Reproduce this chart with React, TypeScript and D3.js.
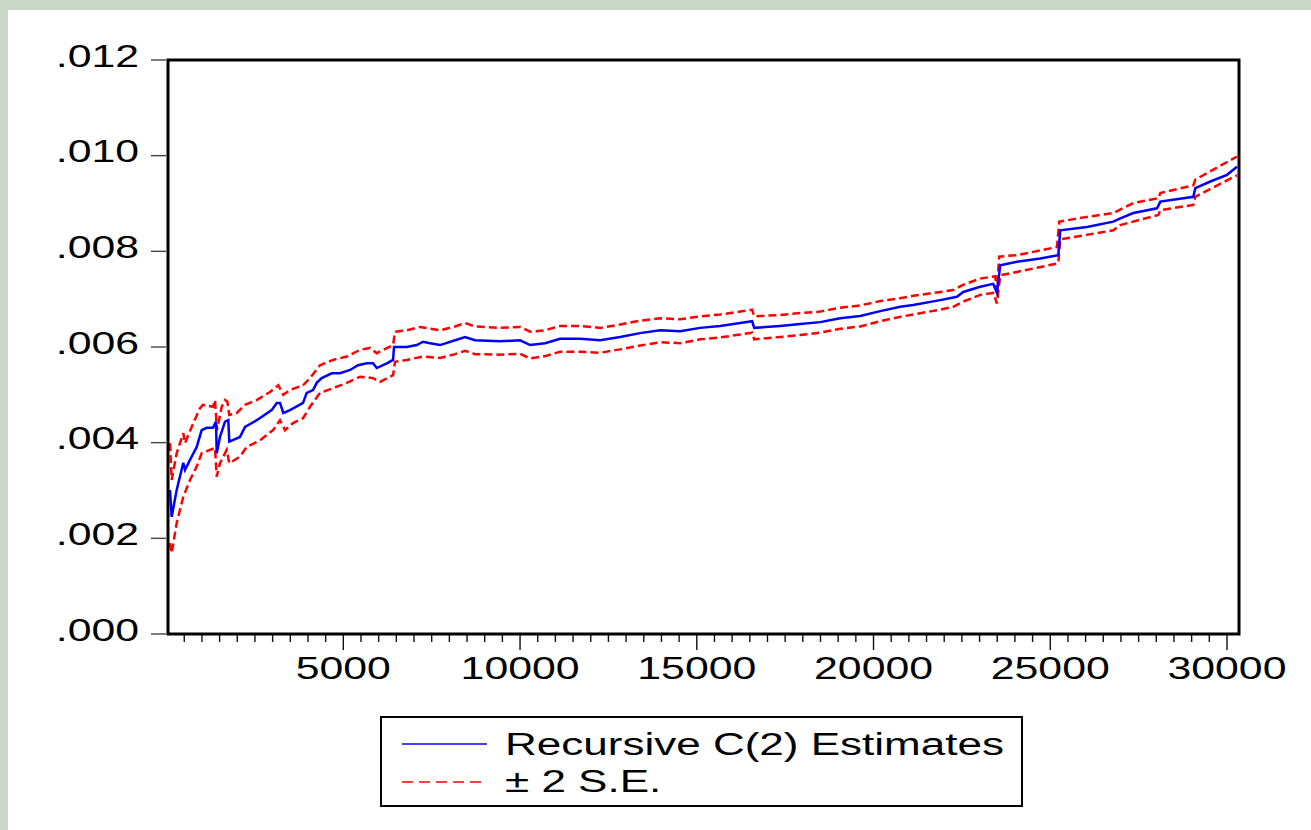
import React from 'react';
import * as d3 from 'd3';

const estimate: [number, number][] = [
  [96, .00301], [144, .00245], [286, .00301], [473, .00358], [521, .00343], [662, .00364], [852, .00391],
  [993, .00426], [1135, .00431], [1313, .00431], [1398, .00444], [1418, .00378], [1511, .00412], [1653, .00444],
  [1746, .00447], [1774, .00402], [2077, .00412], [2219, .00433], [2550, .00447], [2974, .00468], [3116, .00483],
  [3209, .00483], [3303, .00462], [3492, .00468], [3860, .00483], [3965, .00504], [4143, .00510], [4248, .00525],
  [4389, .00535], [4672, .00545], [4907, .00545], [5190, .00552], [5417, .00562], [5663, .00566], [5841, .00566],
  [5946, .00556], [6229, .00566], [6407, .00573], [6435, .00600], [6795, .00600], [7078, .00604], [7256, .00611],
  [7454, .00608], [7737, .00604], [8162, .00614], [8445, .00621], [8728, .00614], [9435, .00612], [10001, .00614],
  [10284, .00604], [10708, .00608], [11133, .00617], [11699, .00617], [12265, .00614], [12831, .00621],
  [13397, .00629], [13963, .00635], [14529, .00633], [15095, .00640], [15661, .00644], [16227, .00650],
  [16567, .00654], [16623, .00640], [17359, .00644], [17925, .00648], [18491, .00652], [19057, .00660],
  [19623, .00665], [20190, .00675], [20754, .00684], [21122, .00688], [21886, .00698], [22360, .00705],
  [22538, .00715], [23019, .00726], [23387, .00732], [23492, .00713], [23585, .00771], [24058, .00778],
  [24717, .00785], [25227, .00792], [25283, .00844], [26039, .00851], [26783, .00862], [26982, .00869],
  [27350, .00880], [28020, .00890], [28114, .00904], [29048, .00914], [29104, .00932], [29529, .00946],
  [30001, .00960], [30284, .00977]
];

const upperBand: [number, number][] = [
  [96, .00399], [144, .00322], [286, .00378], [473, .00420], [521, .00399], [756, .00441], [945, .00472],
  [1030, .00479], [1313, .00475], [1370, .00489], [1426, .00426], [1559, .00475], [1653, .00489], [1718, .00486],
  [1774, .00458], [1984, .00462], [2219, .00479], [2550, .00489], [2926, .00506], [3161, .00520], [3303, .00500],
  [3492, .00510], [3860, .00520], [4058, .00535], [4341, .00562], [4709, .00573], [5097, .00580], [5473, .00594],
  [5756, .00598], [5946, .00587], [6407, .00604], [6464, .00632], [6795, .00635], [7171, .00642], [7737, .00635],
  [8162, .00643], [8445, .00650], [8728, .00643], [9435, .00640], [10001, .00642], [10284, .00632],
  [10708, .00635], [11133, .00644], [11699, .00644], [12265, .00640], [12831, .00647], [13397, .00655],
  [13963, .00660], [14529, .00658], [15095, .00664], [15661, .00668], [16227, .00674], [16567, .00678],
  [16623, .00664], [17359, .00667], [17925, .00671], [18491, .00674], [19057, .00682], [19623, .00687],
  [20190, .00696], [20754, .00702], [21122, .00707], [21886, .00715], [22255, .00719], [22501, .00729],
  [23019, .00743], [23443, .00748], [23492, .00719], [23556, .00789], [24058, .00792], [25190, .00809],
  [25255, .00862], [26039, .00872], [26783, .00880], [27350, .00901], [28058, .00911], [28114, .00922],
  [29048, .00938], [29104, .00950], [30179, .00994], [30284, .00998]
];

const lowerBand: [number, number][] = [
  [96, .00190], [144, .00169], [286, .00232], [473, .00287], [662, .00322], [852, .00350], [993, .00378],
  [1228, .00385], [1370, .00389], [1418, .00329], [1511, .00357], [1701, .00385], [1774, .00357], [2077, .00371],
  [2267, .00391], [2643, .00405], [3011, .00426], [3209, .00447], [3351, .00426], [3577, .00441], [3860, .00451],
  [4058, .00475], [4341, .00504], [4709, .00514], [5097, .00525], [5473, .00538], [5841, .00535], [6039, .00527],
  [6407, .00541], [6464, .00569], [6795, .00573], [7256, .00580], [7737, .00577], [8162, .00585], [8445, .00592],
  [8728, .00585], [9435, .00584], [10001, .00586], [10284, .00576], [10708, .00581], [11133, .00590],
  [11699, .00590], [12265, .00588], [12831, .00595], [13397, .00603], [13963, .00610], [14529, .00608],
  [15095, .00616], [15661, .00620], [16227, .00626], [16567, .00630], [16623, .00616], [17359, .00621],
  [17925, .00625], [18491, .00630], [19057, .00638], [19623, .00643], [20190, .00654], [20754, .00663],
  [21122, .00668], [21886, .00678], [22255, .00684], [22538, .00695], [23019, .00709], [23387, .00713],
  [23492, .00691], [23585, .00750], [24058, .00757], [25227, .00775], [25283, .00825], [26783, .00844],
  [26982, .00855], [28058, .00876], [28114, .00886], [29048, .00897], [29104, .00914], [30284, .00959]
];

const yTicks = [0, .002, .004, .006, .008, .010, .012];
const xMajorTicks = [5000, 10000, 15000, 20000, 25000, 30000];
const xDomain = [40, 30340];
const legendLabels = ['Recursive C(2) Estimates', '\u00b1 2 S.E.'];

export default function App() {
  const W = 1311;
  const H = 830;
  const left = 168, right = 1239, top = 60, bottom = 634;
  const font = '"Liberation Sans", Arial, sans-serif';
  const stretch = 1.38;

  const x = d3.scaleLinear().domain(xDomain).range([left, right]);
  const y = d3.scaleLinear().domain([0, 0.012]).range([bottom, top]);

  const line = d3.line<[number, number]>()
    .x(d => x(d[0]))
    .y(d => y(d[1]));

  const minorTicks = d3.range(500, xDomain[1], 500);
  const fmt = (v: number) => d3.format('.3f')(v).replace(/^0/, '');

  return (
    <div style={{ position: 'fixed', left: 0, top: 0 }}>
      <svg width={W} height={H} style={{ display: 'block' }}>
        <rect x={0} y={0} width={W} height={H} fill="#cbd8c7" />
        <rect x={8} y={10} width={W - 8} height={H - 10} fill="#fff" />

        <defs>
          <clipPath id="plot">
            <rect x={left} y={top} width={right - left} height={bottom - top} />
          </clipPath>
        </defs>

        {/* y axis ticks + labels */}
        {yTicks.map(t => (
          <g key={t}>
            <line x1={151} x2={166} y1={y(t)} y2={y(t)} stroke="#444" strokeWidth={1.4} />
            <text transform={`translate(139, ${y(t) + 6.5}) scale(${stretch},1)`} textAnchor="end"
              fontFamily={font} fontSize={31} fill="#000">{fmt(t)}</text>
          </g>
        ))}

        {/* x axis ticks */}
        {minorTicks.map(t => {
          const major = t % 5000 === 0;
          return (
            <line key={t} x1={x(t)} x2={x(t)} y1={bottom} y2={major ? 650 : 642}
              stroke="#111" strokeWidth={1.4} />
          );
        })}
        {xMajorTicks.map(t => (
          <text key={t} transform={`translate(${x(t)}, 679) scale(${stretch},1)`} textAnchor="middle"
            fontFamily={font} fontSize={31} fill="#000">{t}</text>
        ))}

        {/* series */}
        <g clipPath="url(#plot)">
          <path d={line(upperBand) || ''} fill="none" stroke="#ff0000" strokeWidth={2.5} strokeDasharray="8,4" />
          <path d={line(lowerBand) || ''} fill="none" stroke="#ff0000" strokeWidth={2.5} strokeDasharray="8,4" />
          <path d={line(estimate) || ''} fill="none" stroke="#0000ff" strokeWidth={2.5} />
        </g>

        {/* frame */}
        <rect x={left} y={top} width={right - left} height={bottom - top} fill="none" stroke="#000" strokeWidth={3} />

        {/* legend */}
        <rect x={381} y={717} width={641} height={89} fill="#fff" stroke="#000" strokeWidth={2} />
        <line x1={402} x2={487} y1={744} y2={744} stroke="#0000ff" strokeWidth={1.6} />
        <line x1={402} x2={487} y1={782} y2={782} stroke="#ff0000" strokeWidth={1.6} strokeDasharray="11,6" />
        {legendLabels.map((l, i) => (
          <text key={l} transform={`translate(505, ${755 + i * 37}) scale(1.42,1)`}
            fontFamily={font} fontSize={31} fill="#000">{l}</text>
        ))}
      </svg>
    </div>
  );
}
